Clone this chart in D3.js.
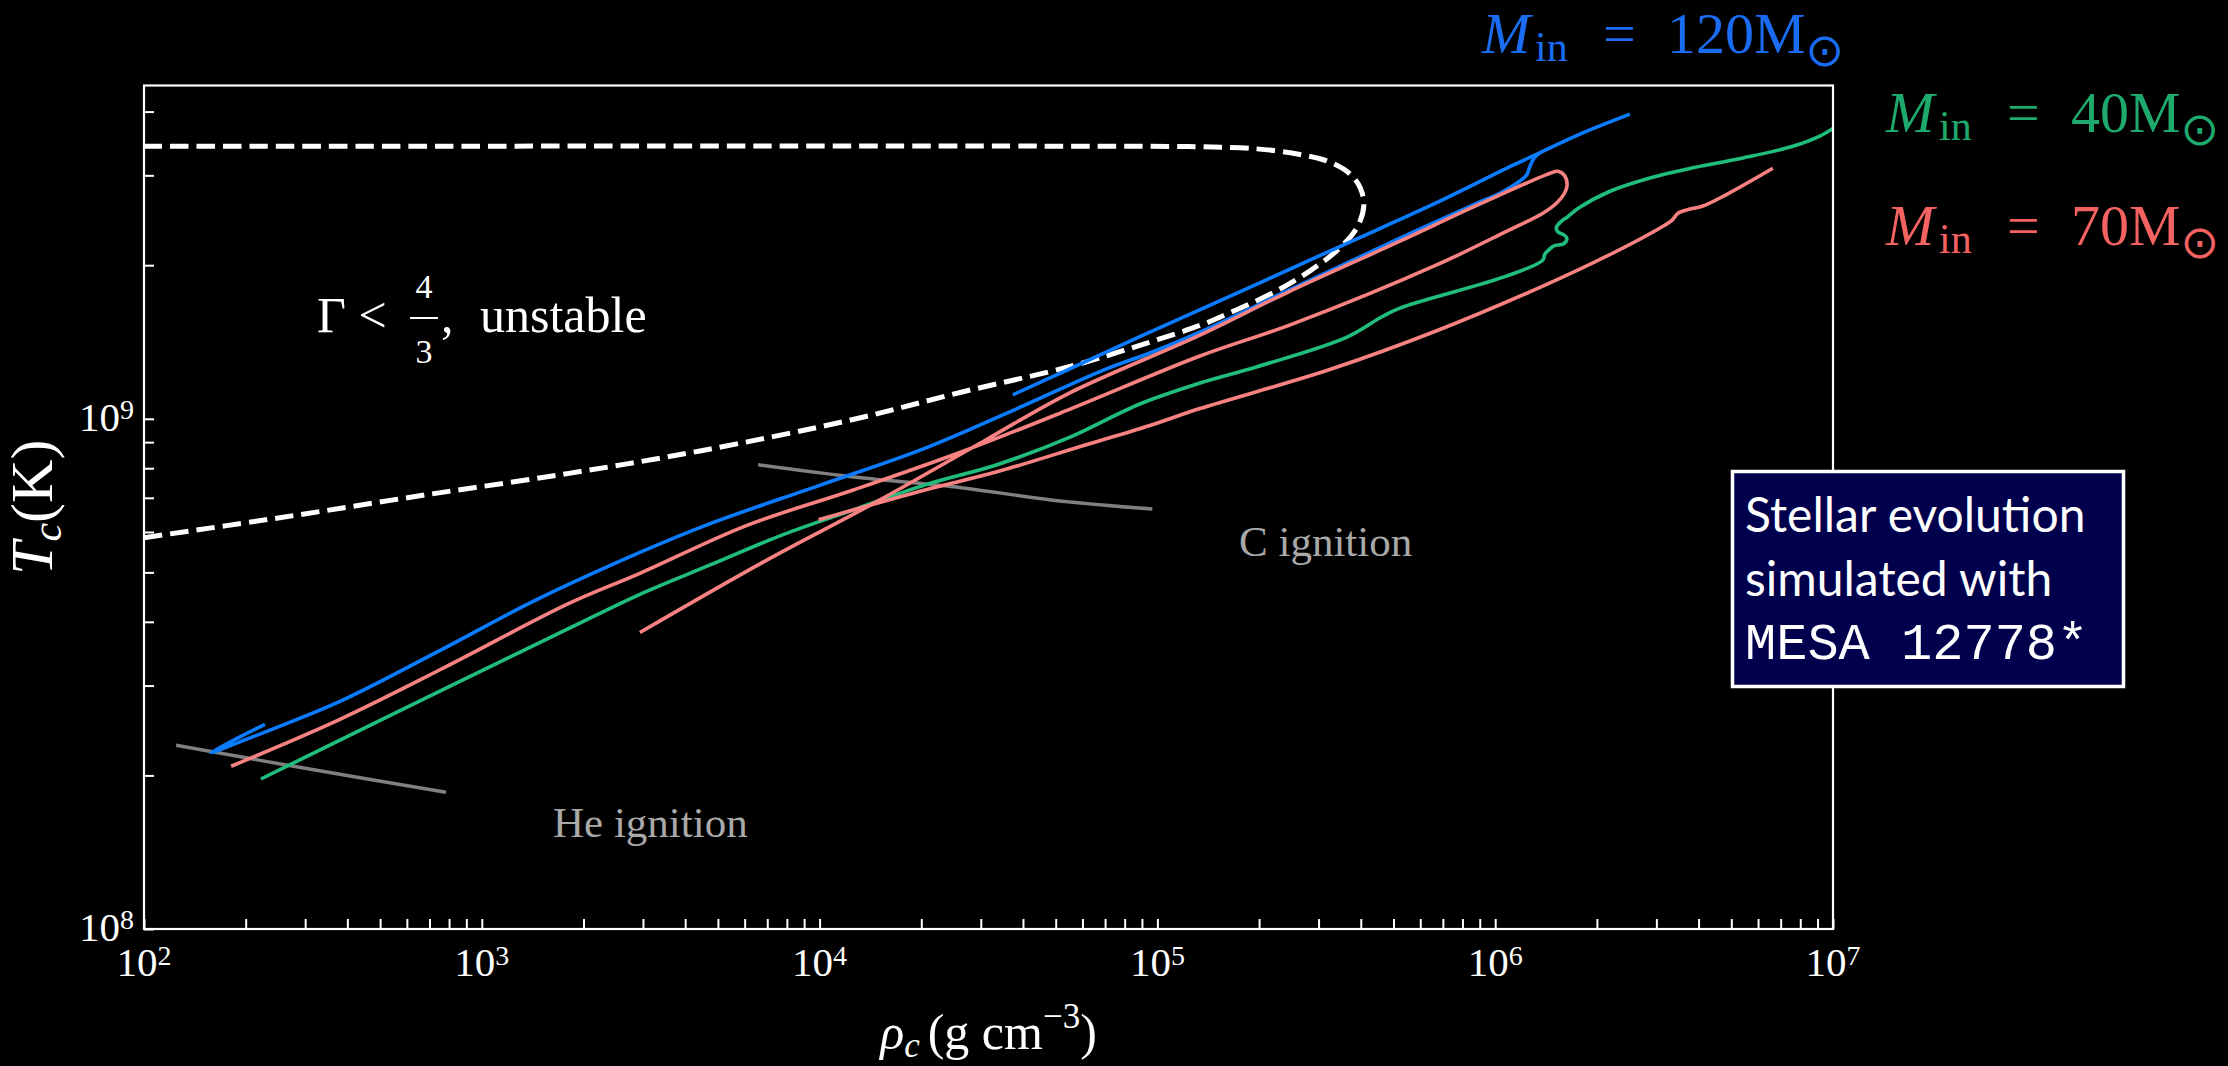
<!DOCTYPE html>
<html>
<head>
<meta charset="utf-8">
<script src="https://cdn.jsdelivr.net/npm/d3@7"></script>
<style>
  html, body { margin: 0; padding: 0; background: #000; }
  svg { display: block; }
</style>
</head>
<body>
<div id="chart"></div>
<script>
// every track point is [log10(rho_c), log10(T_c)]
const track120 = [
  [2.358, 8.401], [2.198, 8.346], [2.358, 8.386], [2.580, 8.446], [2.888, 8.550],
  [3.152, 8.642], [3.468, 8.738], [3.678, 8.795], [3.998, 8.869], [4.315, 8.943],
  [4.578, 9.018], [4.842, 9.096], [4.978, 9.129], [5.126, 9.170], [5.383, 9.250],
  [5.718, 9.354], [5.955, 9.425], [6.014, 9.442], [6.073, 9.466], [6.094, 9.479],
  [6.103, 9.495], [6.115, 9.511], [6.132, 9.521], [6.153, 9.528], [6.251, 9.558],
  [6.399, 9.597]
];
const track120b = [
  [4.572, 9.047], [4.738, 9.097], [4.948, 9.161], [5.295, 9.264], [5.558, 9.343],
  [5.825, 9.423], [6.053, 9.497], [6.132, 9.521]
];
const track70 = [
  [2.258, 8.319], [2.580, 8.411], [2.888, 8.512], [3.258, 8.638], [3.468, 8.697],
  [3.785, 8.791], [4.102, 8.861], [4.419, 8.935], [4.738, 9.018], [5.126, 9.123],
  [5.401, 9.186], [5.825, 9.301], [6.035, 9.368], [6.141, 9.403], [6.182, 9.423],
  [6.206, 9.443], [6.213, 9.459], [6.206, 9.476], [6.186, 9.485], [6.162, 9.481],
  [5.955, 9.421], [5.718, 9.348], [5.383, 9.247], [5.126, 9.164], [4.738, 9.050],
  [4.493, 8.959], [4.176, 8.840], [3.841, 8.722], [3.468, 8.581]
];
const track70b = [
  [3.997, 8.802], [4.315, 8.861], [4.525, 8.896], [4.789, 8.949], [4.978, 8.987],
  [5.126, 9.020], [5.508, 9.096], [5.825, 9.172], [6.141, 9.260], [6.340, 9.322],
  [6.488, 9.374], [6.523, 9.389], [6.541, 9.403], [6.577, 9.411], [6.615, 9.417],
  [6.686, 9.440], [6.822, 9.491]
];
const track40 = [
  [2.346, 8.294], [2.888, 8.470], [3.258, 8.589], [3.468, 8.656], [3.678, 8.714],
  [3.892, 8.773], [4.102, 8.822], [4.315, 8.871], [4.525, 8.910], [4.738, 8.963],
  [4.948, 9.029], [5.126, 9.070], [5.295, 9.102], [5.558, 9.159], [5.665, 9.200],
  [5.718, 9.217], [6.035, 9.280], [6.141, 9.311], [6.147, 9.323], [6.162, 9.333],
  [6.174, 9.339], [6.203, 9.343], [6.212, 9.354], [6.202, 9.361], [6.186, 9.366],
  [6.181, 9.375], [6.194, 9.386], [6.215, 9.396], [6.247, 9.413], [6.340, 9.446],
  [6.458, 9.472], [6.585, 9.492], [6.733, 9.511], [6.881, 9.534], [6.961, 9.554],
  [7.000, 9.569]
];
// Gamma = 4/3 boundary
const gammaLine = [
  [2.000, 8.767], [2.411, 8.807], [2.835, 8.851], [3.258, 8.893], [3.646, 8.937],
  [4.102, 8.999], [4.419, 9.052], [4.738, 9.102], [4.948, 9.144],
  [5.126, 9.183], [5.188, 9.200], [5.348, 9.249], [5.454, 9.291], [5.537, 9.333],
  [5.591, 9.375], [5.611, 9.417], [5.601, 9.452], [5.570, 9.480], [5.507, 9.504],
  [5.422, 9.518], [5.295, 9.529], [5.137, 9.533], [4.978, 9.534], [2.000, 9.534]
];
const heIgnition = [[2.095, 8.360], [2.494, 8.313], [2.894, 8.268]];
const cIgnition = [[3.818, 8.910], [4.102, 8.886], [4.419, 8.865], [4.685, 8.841], [4.985, 8.823]];

const xMajor = [1e2, 1e3, 1e4, 1e5, 1e6, 1e7];
const yMajor = [1e8, 1e9];
const masses = ["120", "40", "70"];
const noteLines = ["Stellar evolution", "simulated with", "MESA 12778*"];

const W = 2228, H = 1066;
const serif = "'Liberation Serif', 'DejaVu Serif', serif";

const svg = d3.select("#chart").append("svg")
    .attr("width", W)
    .attr("height", H)
    .attr("font-family", serif);

svg.append("rect").attr("width", W).attr("height", H).attr("fill", "#000");

const x = d3.scaleLog().domain([1e2, 1e7]).range([144, 1833]);
const y = d3.scaleLog().domain([1e8, 4.5e9]).range([929, 85.5]);

svg.append("defs").append("clipPath").attr("id", "plot")
  .append("rect")
    .attr("x", x.range()[0])
    .attr("y", y.range()[1])
    .attr("width", x.range()[1] - x.range()[0])
    .attr("height", y.range()[0] - y.range()[1]);

const line = d3.line()
    .x(d => x(10 ** d[0]))
    .y(d => y(10 ** d[1]))
    .curve(d3.curveCatmullRom.alpha(0.5));

const plot = svg.append("g").attr("clip-path", "url(#plot)");

// ignition lines
[heIgnition, cIgnition].forEach(d => {
    plot.append("path").datum(d)
        .attr("d", line)
        .attr("fill", "none")
        .attr("stroke", "#808080")
        .attr("stroke-width", 3.5);
});

// unstable region boundary
plot.append("path").datum(gammaLine)
    .attr("d", line)
    .attr("fill", "none")
    .attr("stroke", "#fff")
    .attr("stroke-width", 5)
    .attr("stroke-dasharray", "18.5,8");

const tracks = [
    {data: track120, color: "#0b7bff"},
    {data: track120b, color: "#0b7bff"},
    {data: track40, color: "#20bd7d"},
    {data: track70, color: "#f88282"},
    {data: track70b, color: "#f88282"}
];
tracks.forEach(t => {
    plot.append("path").datum(t.data)
        .attr("d", line)
        .attr("fill", "none")
        .attr("stroke", t.color)
        .attr("stroke-width", 3.6)
        .attr("stroke-linejoin", "round");
});

// frame
svg.append("rect")
    .attr("x", x.range()[0])
    .attr("y", y.range()[1])
    .attr("width", x.range()[1] - x.range()[0])
    .attr("height", y.range()[0] - y.range()[1])
    .attr("fill", "none")
    .attr("stroke", "#fff")
    .attr("stroke-width", 2.2);

// ticks point inwards
const gx = svg.append("g")
    .attr("transform", "translate(0," + y.range()[0] + ")")
    .call(d3.axisBottom(x).tickValues(x.ticks()).tickSize(-10).tickFormat(() => ""));
const gy = svg.append("g")
    .attr("transform", "translate(" + x.range()[0] + ",0)")
    .call(d3.axisLeft(y).tickValues(y.ticks()).tickSize(-10).tickFormat(() => ""));
[gx, gy].forEach(g => {
    g.select(".domain").remove();
    g.selectAll(".tick line").attr("stroke", "#fff").attr("stroke-width", 2);
});

// tick labels 10^n
svg.append("g").selectAll("text")
    .data(xMajor)
    .join("text")
    .attr("x", d => x(d))
    .attr("y", y.range()[0] + 47)
    .attr("text-anchor", "middle")
    .attr("font-size", 41)
    .attr("fill", "#fff")
    .each(function(d) {
        const t = d3.select(this);
        t.append("tspan").text("10");
        t.append("tspan").attr("dy", -11).attr("font-size", 28).text(Math.round(Math.log10(d)));
    });

svg.append("g").selectAll("text")
    .data(yMajor)
    .join("text")
    .attr("x", x.range()[0] - 10)
    .attr("y", d => y(d) + 12)
    .attr("text-anchor", "end")
    .attr("font-size", 41)
    .attr("fill", "#fff")
    .each(function(d) {
        const t = d3.select(this);
        t.append("tspan").text("10");
        t.append("tspan").attr("dy", -12).attr("font-size", 28).text(Math.round(Math.log10(d)));
    });

// axis titles
const xTitle = svg.append("text")
    .attr("x", (x.range()[0] + x.range()[1]) / 2)
    .attr("y", 1049)
    .attr("text-anchor", "middle")
    .attr("font-size", 50)
    .attr("fill", "#fff");
xTitle.append("tspan").attr("font-style", "italic").text("ρ");
xTitle.append("tspan").attr("font-style", "italic").attr("font-size", 35).attr("dy", 8).text("c");
xTitle.append("tspan").attr("dy", -8).attr("dx", 8).text("(g cm");
xTitle.append("tspan").attr("font-size", 35).attr("dy", -21).text("−3");
xTitle.append("tspan").attr("dy", 21).text(")");

const yTitle = svg.append("text")
    .attr("transform", "translate(52," + (y.range()[0] + y.range()[1]) / 2 + ") rotate(-90)")
    .attr("text-anchor", "middle")
    .attr("font-size", 60)
    .attr("fill", "#fff");
yTitle.append("tspan").attr("font-style", "italic").text("T");
yTitle.append("tspan").attr("font-style", "italic").attr("font-size", 42).attr("dy", 9).text("c");
yTitle.append("tspan").attr("dy", -9).text("(K)");

// annotations
const ann = svg.append("g").attr("fill", "#fff");
ann.append("text").attr("x", 317).attr("y", 332).attr("font-size", 50).text("Γ <");
ann.append("text").attr("x", 424).attr("y", 298).attr("text-anchor", "middle").attr("font-size", 34).text("4");
ann.append("text").attr("x", 424).attr("y", 363).attr("text-anchor", "middle").attr("font-size", 34).text("3");
ann.append("line").attr("x1", 410).attr("x2", 438).attr("y1", 318).attr("y2", 318)
    .attr("stroke", "#fff").attr("stroke-width", 2);
ann.append("text").attr("x", 441).attr("y", 332).attr("font-size", 50).text(",");
ann.append("text").attr("x", 480).attr("y", 332).attr("font-size", 50).text("unstable");

svg.append("text").attr("x", 553).attr("y", 837).attr("font-size", 43)
    .attr("fill", "#a9a9a9").text("He ignition");
svg.append("text").attr("x", 1239).attr("y", 556).attr("font-size", 43)
    .attr("fill", "#a9a9a9").text("C ignition");

// mass labels
const labelColors = ["#1a6cf2", "#1eaa6c", "#f46262"];
const labelPos = [[1482, 53], [1886, 132], [1886, 245]];
masses.forEach((m, i) => {
    const x0 = labelPos[i][0];
    const t = svg.append("text")
        .attr("y", labelPos[i][1])
        .attr("font-size", 58)
        .attr("fill", labelColors[i]);
    t.append("tspan").attr("x", x0).attr("font-style", "italic").text("M");
    t.append("tspan").attr("x", x0 + 53).attr("dy", 8).attr("font-size", 42).text("in");
    t.append("tspan").attr("x", x0 + 121).attr("dy", -8).text("=");
    t.append("tspan").attr("x", x0 + 185).text(m + "M");
    t.append("tspan").attr("dy", 13).attr("font-size", 46)
        .attr("font-family", "'DejaVu Sans', sans-serif").text("⊙");
});

// note box
const box = svg.append("g");
box.append("rect")
    .attr("x", 1732.5)
    .attr("y", 471.5)
    .attr("width", 391)
    .attr("height", 215)
    .attr("fill", "#00004d")
    .attr("stroke", "#fff")
    .attr("stroke-width", 3.5);
box.selectAll("text")
    .data(noteLines)
    .join("text")
    .attr("x", 1745)
    .attr("y", (d, i) => 532 + i * 63.5)
    .attr("font-family", (d, i) => i === 2 ? "'Liberation Mono', monospace" : "Lato, sans-serif")
    .attr("font-size", (d, i) => i === 2 ? 52 : 48)
    .attr("fill", "#fff")
    .text(d => d);
</script>
</body>
</html>
